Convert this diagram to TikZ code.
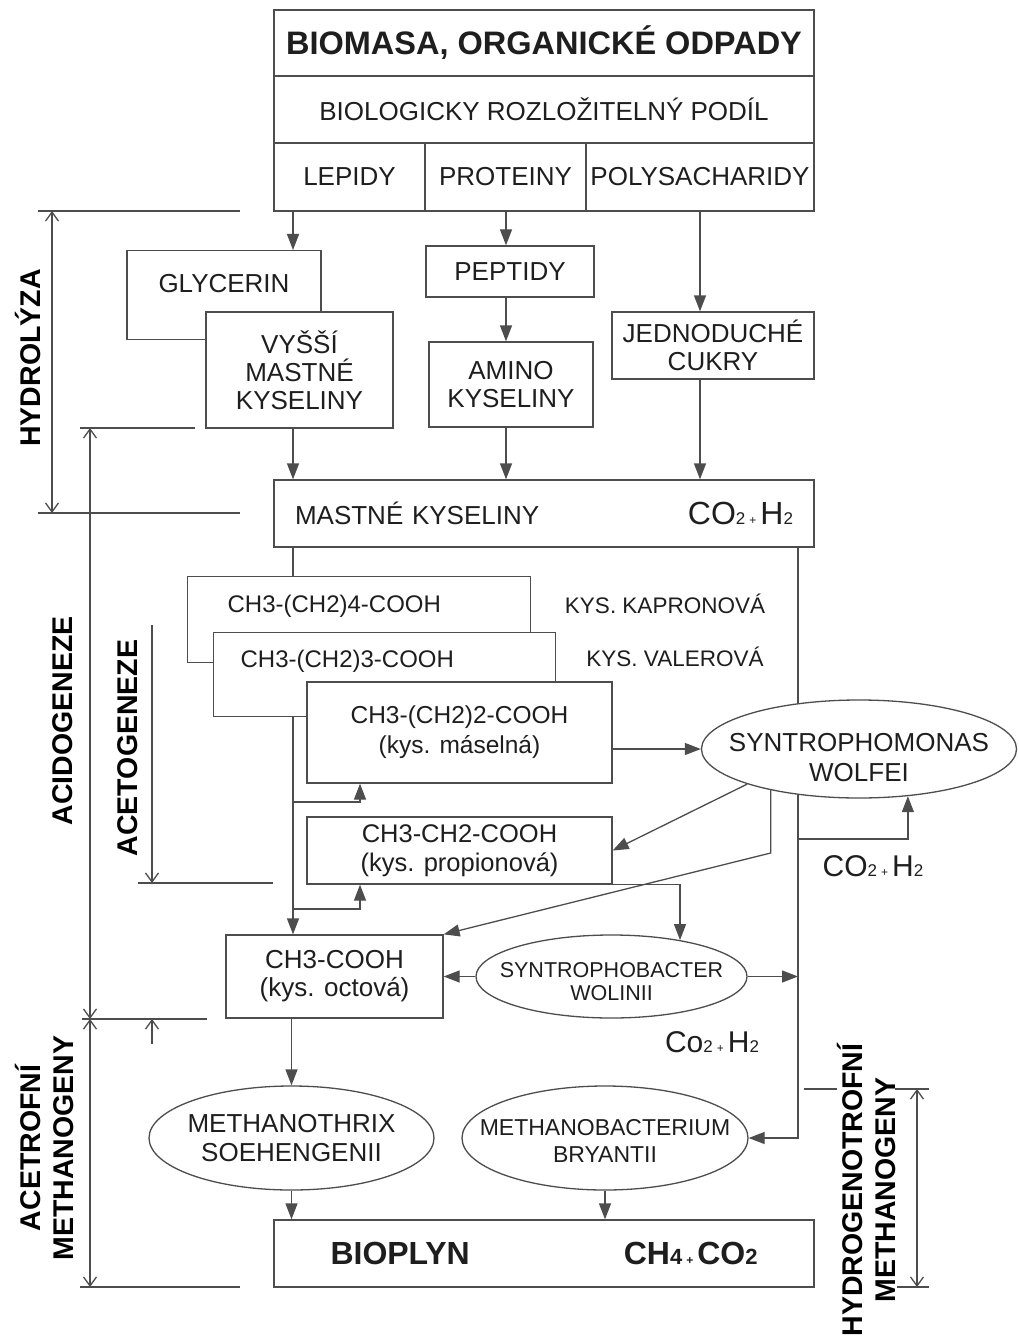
\documentclass[tikz,border=0pt]{standalone}
\usepackage{fontspec}
\setmainfont{Liberation Sans}
\usetikzlibrary{arrows.meta,shapes.geometric}
\definecolor{linec}{HTML}{4D4D4D}
\definecolor{inkc}{HTML}{1E1E1E}
\newcommand\fsz[2]{\fontsize{#1}{#2}\selectfont}
\newcommand\lo[1]{{\fsz{17}{17}#1}}
\newcommand\pl{\hspace{4pt}{\fsz{12}{12}+}\hspace{4pt}}
\pgfdeclarelayer{bg}
\pgfsetlayers{bg,main}
\tikzset{
  box/.style={draw=linec, fill=white, line width=1.3pt, inner sep=0pt, text=inkc, align=center, font=\fsz{26}{28}},
  bug/.style={ellipse, draw=linec, fill=white, line width=1.3pt, inner sep=0pt},
  txt/.style={text=inkc, inner sep=0pt, font=\fsz{26}{28}},
  stage/.style={text=black, inner sep=0pt, rotate=90, align=center, font=\fsz{28.5}{33}\bfseries},
  arr/.style={draw=linec, line width=1.3pt, -{Triangle[length=16pt,width=12pt]}},
  dim/.style={draw=linec, line width=1.3pt},
  barb/.tip={Straight Barb[length=9pt,width=13pt]},
}
\begin{document}
\begin{tikzpicture}[x=1pt,y=-1pt]
\useasboundingbox (0,0) rectangle (1018,1340);
% column positions of the arrows
\coordinate (c1) at (293,0);
\coordinate (c2) at (506,0);
\coordinate (c3) at (700,0);
\coordinate (c4) at (360,0);
\coordinate (c6) at (798,0);
\coordinate (jb) at (293,802);
\coordinate (jp) at (293,909);
\coordinate (k1) at (768,853);
\coordinate (k2) at (798,839);

% input
\node[box, minimum width=540pt, minimum height=66pt, font=\fsz{32.5}{34}\bfseries] (biomasa) at (544,43) {BIOMASA, ORGANICKÉ ODPADY};
\node[box, minimum width=540pt, minimum height=67pt] (podil) at (544,109.5) {BIOLOGICKY ROZLOŽITELNÝ PODÍL};
\node[box, minimum width=151pt, minimum height=68pt] (lepidy) at (349.5,177) {LEPIDY};
\node[box, minimum width=161pt, minimum height=68pt] (proteiny) at (505.5,177) {PROTEINY};
\node[box, minimum width=228pt, minimum height=68pt] (polysach) at (700,177) {POLYSACHARIDY};

% hydrolysis
\node[box, minimum width=194pt, anchor=north, text height=42pt, text depth=47pt] (glycerin) at (224,250) {GLYCERIN};
\node[box, minimum width=187pt, minimum height=116pt] (vmk) at (299.5,370) {VYŠŠÍ\\MASTNÉ\\KYSELINY};
\node[box, minimum width=168pt, minimum height=51pt] (peptidy) at (510,271.5) {PEPTIDY};
\node[box, minimum width=164pt, minimum height=85pt] (amino) at (511,384.5) {AMINO\\KYSELINY};
\node[box, minimum width=202pt, minimum height=67pt] (cukry) at (713,345.5) {JEDNODUCHÉ\\CUKRY};
\node[box, minimum width=540pt, minimum height=67pt, text width=498pt, inner xsep=21pt] (mk) at (544,513.5)
  {MASTNÉ KYSELINY\hskip0pt plus1fill{\fsz{32}{32}CO}\lo{2}\pl{\fsz{32}{32}H}\lo{2}};

% acids
\node[box, anchor=north west, text width=263pt, inner xsep=40pt, text height=36pt, text depth=50pt, align=left, font=\fsz{24}{26}] (kapron) at (187,576) {CH3-(CH2)4-COOH};
\node[box, anchor=north west, text width=288pt, inner xsep=27pt, text height=35pt, text depth=49pt, align=left, font=\fsz{24}{26}] (valer) at (213,632) {CH3-(CH2)3-COOH};
\node[box, minimum width=305pt, minimum height=101pt, font=\fsz{24.5}{30}] (butyr) at (459.5,732.5) {CH3-(CH2)2-COOH\\(kys. máselná)};
\node[box, minimum width=305pt, minimum height=67pt, font=\fsz{25.5}{29}] (prop) at (459.5,850.5) {CH3-CH2-COOH\\(kys. propionová)};
\node[box, minimum width=217pt, minimum height=83pt] (acetic) at (334.5,976.5) {CH3-COOH\\(kys. octová)};
\node[txt, anchor=base, font=\fsz{22.5}{24}] (kapronova) at (665,613) {KYS. KAPRONOVÁ};
\node[txt, anchor=base, font=\fsz{22.5}{24}] (valerova) at (675,666) {KYS. VALEROVÁ};

% bacteria
\node[bug, minimum width=315pt, minimum height=98pt,
  label={[txt, align=center, yshift=-9pt, font=\fsz{26}{30}]center:SYNTROPHOMONAS\\WOLFEI}] (swolf) at (859,749) {};
\node[bug, minimum width=271pt, minimum height=83pt,
  label={[txt, align=center, yshift=-5pt, font=\fsz{21.5}{23}]center:SYNTROPHOBACTER\\WOLINII}] (swol) at (611.5,976.5) {};
\node[bug, minimum width=285pt, minimum height=104pt,
  label={[txt, align=center, font=\fsz{26}{29}]center:METHANOTHRIX\\SOEHENGENII}] (mthrix) at (291.5,1138) {};
\node[bug, minimum width=286pt, minimum height=104pt,
  label={[txt, align=center, yshift=-3pt, font=\fsz{23}{27}]center:METHANOBACTERIUM\\BRYANTII}] (mbact) at (605,1138) {};
\node[txt, anchor=base] (gasA) at (873,876) {{\fsz{30}{30}CO}\lo{2}\pl{\fsz{30}{30}H}\lo{2}};
\node[txt, anchor=base] (gasB) at (712,1052) {{\fsz{30}{30}Co}\lo{2}\pl{\fsz{30}{30}H}\lo{2}};

% output
\node[box, minimum width=540pt, minimum height=67pt, text width=427pt, inner xsep=56.5pt, font=\fsz{32}{34}\bfseries] (bioplyn) at (544,1253.5)
  {BIOPLYN\hskip0pt plus1fill CH{\fsz{22}{22}4}\pl CO{\fsz{22}{22}2}};

% stages
\node[stage] (hydrolyza) at (28,358) {HYDROLÝZA};
\node[stage] (acidog) at (63,721) {ACIDOGENEZE};
\node[stage] (acetog) at (128,748) {ACETOGENEZE};
\node[stage] (acetrof) at (45,1148) {ACETROFNÍ\\METHANOGENY};
\node[stage, fill=white] (hydrogenotrof) at (866,1190) {HYDROGENOTROFNÍ\\METHANOGENY};

\begin{pgfonlayer}{bg}
\fill[white] (0,0) rectangle (1018,1340);
\draw[arr] (lepidy.south -| c1) -- (glycerin.north -| c1);
\draw[arr] (proteiny.south -| c2) -- (peptidy.north -| c2);
\draw[arr] (peptidy.south -| c2) -- (amino.north -| c2);
\draw[arr] (polysach.south -| c3) -- (cukry.north -| c3);
\draw[arr] (vmk.south -| c1) -- (mk.north -| c1);
\draw[arr] (amino.south -| c2) -- (mk.north -| c2);
\draw[arr] (cukry.south -| c3) -- (mk.north -| c3);
\draw[arr] (mk.south -| c1) -- (acetic.north -| c1);
\draw[arr] (jb) -| (butyr.south -| c4);
\draw[arr] (jp) -| (prop.south -| c4);
\draw[arr] (butyr.east |- swolf.west) -- (swolf.west);
\draw[arr] (swolf.south west) -- (prop.east);
\draw[arr] (swolf.205) -- (swolf.205 |- k1) -- (acetic.north east);
\draw[arr] (prop.south east) -| (swol.28);
\draw[arr] (swol.west) -- (acetic.east);
\draw[arr] (swol.east) -- (swol.east -| c6);
\draw[arr] (mk.south -| c6) |- (mbact.east);
\draw[arr] (k2) -| (swolf.-44);
\draw[arr] (acetic.south -| mthrix.north) -- (mthrix.north);
\draw[arr] (mthrix.south) -- (bioplyn.north -| mthrix.south);
\draw[arr] (mbact.south) -- (bioplyn.north -| mbact.south);

% dimension lines
\draw[dim] (38,211) -- (240,211);
\draw[dim] (38,513) -- (240,513);
\draw[dim, barb-barb] (52,211) -- (52,513);
\draw[dim] (80,428) -- (195,428);
\draw[dim, barb-barb] (90,428) -- (90,1019);
\draw[dim] (82,1019) -- (207,1019);
\draw[dim, barb-barb] (90,1019) -- (90,1287);
\draw[dim] (80,1287) -- (240,1287);
\draw[dim, -barb] (152,625) -- (152,883);
\draw[dim] (138,883) -- (273,883);
\draw[dim, -barb] (152,1044) -- (152,1019);
\draw[dim] (804,1089) -- (929,1089);
\draw[dim, barb-barb] (917,1089) -- (917,1287);
\draw[dim] (897,1287) -- (929,1287);
\end{pgfonlayer}
\end{tikzpicture}
\end{document}
